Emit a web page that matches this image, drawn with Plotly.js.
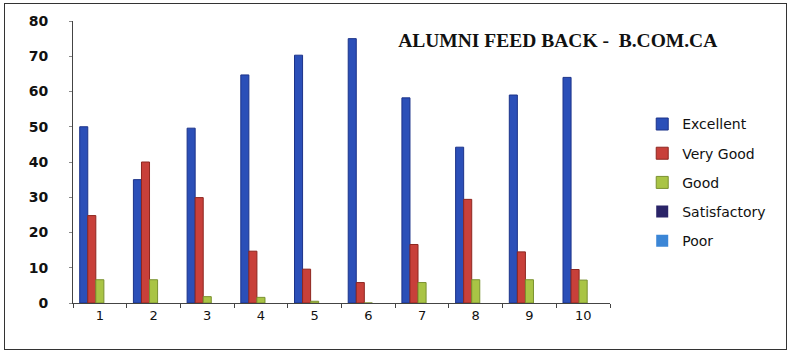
<!DOCTYPE html>
<html><head><meta charset="utf-8">
<script src="https://cdn.plot.ly/plotly-3.0.1.min.js"></script>
<style>
html,body{margin:0;padding:0;background:#fff;}
#wrap{position:relative;width:790px;height:356px;}
#chart{position:absolute;left:0;top:0;width:790px;height:356px;}
#frame{position:absolute;left:4px;top:3px;width:781px;height:345px;border:1.5px solid #333;pointer-events:none;}
</style></head>
<body>
<div id="wrap"><div id="chart"></div><div id="frame"></div></div>
<script>
const categories = ['1','2','3','4','5','6','7','8','9','10'];
const excellent    = [50, 35, 49.6, 64.7, 70.3, 75, 58.2, 44.2, 59, 64];
const veryGood     = [24.8, 40, 29.9, 14.7, 9.6, 5.8, 16.6, 29.4, 14.5, 9.5];
const good         = [6.6, 6.6, 1.8, 1.6, 0.5, 0, 5.8, 6.6, 6.6, 6.5];
const satisfactory = [0, 0, 0, 0, 0, 0, 0, 0, 0, 0];
const poor         = [0, 0, 0, 0, 0, 0, 0, 0, 0, 0];
const seriesNames  = ['Excellent', 'Very Good', 'Good', 'Satisfactory', 'Poor'];
const yTicks = [0,10,20,30,40,50,60,70,80];

const colors = ['#2b4fb8', '#c8403a', '#a9c445', '#2a2468', '#3b86d6'];
const edges  = ['#1c338a', '#8e2720', '#7a9130', '#18143f', '#25609e'];
const edgeW  = [1, 1, 1, 0, 0];
const data = [excellent, veryGood, good, satisfactory, poor].map((vals, i) => ({
  type: 'bar', x: categories, y: vals, name: seriesNames[i], legendgroup: 'g' + i,
  marker: {color: colors[i], line: {color: edges[i], width: edgeW[i]}}
}));

const layout = {
  width: 790, height: 356,
  margin: {l: 73, r: 180, t: 21, b: 53},
  paper_bgcolor: '#fff', plot_bgcolor: '#fff',
  barmode: 'group', bargap: 0.25, bargroupgap: 0,
  font: {family: 'DejaVu Sans, sans-serif', color: '#111'},
  title: {text: 'ALUMNI FEED BACK -  B.COM.CA', font: {family: 'Liberation Serif, serif', size: 19.5, color: '#111', weight: 'bold'},
          x: 0.706, xref: 'container', xanchor: 'center', y: 0.888, yref: 'container', yanchor: 'middle'},
  xaxis: {type: 'category', showline: true, linecolor: '#444', linewidth: 1, ticks: 'outside', tickson: 'boundaries',
          ticklen: 4, tickcolor: '#444', showgrid: false, zeroline: false, tickfont: {size: 13, color: '#111'}},
  yaxis: {range: [0, 80], tickvals: yTicks, showline: true, linecolor: '#444', linewidth: 1, ticks: 'outside',
          ticklen: 3, tickcolor: '#888', showgrid: false, zeroline: false, ticklabelstandoff: 18,
          tickfont: {size: 14, color: '#111', weight: 'bold'}},
  legend: {x: 1.06, xanchor: 'left', y: 0.69, yanchor: 'top', font: {size: 14, color: '#111'},
           traceorder: 'grouped', tracegroupgap: 8, itemwidth: 30, bgcolor: 'rgba(0,0,0,0)'},
  showlegend: true
};
Plotly.newPlot('chart', data, layout, {displayModeBar: false, staticPlot: true});
</script>
</body></html>
